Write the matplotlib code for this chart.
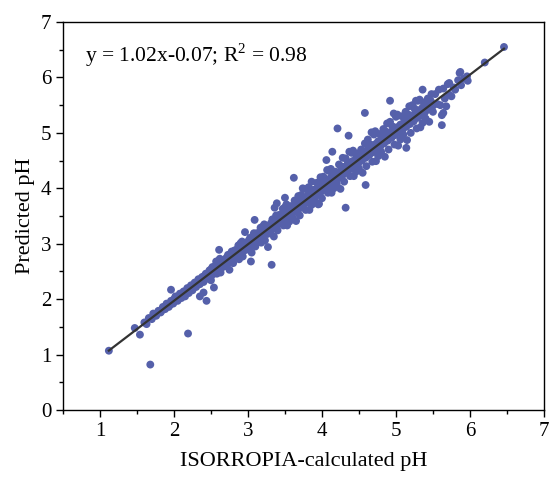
import matplotlib.pyplot as plt
from matplotlib.ticker import MultipleLocator

plt.rcParams['font.family'] = ['Liberation Serif', 'DejaVu Serif']
plt.rcParams['mathtext.fontset'] = 'custom'
plt.rcParams['mathtext.rm'] = 'Liberation Serif'

# ISORROPIA-calculated pH (x) vs predicted pH (y)
calc_ph = [
    1.12, 1.68, 2.19, 1.54, 1.96, 2.44, 2.54, 2.61, 3.62, 4.21, 3.04, 3.32, 3.27,
    4.32, 4.59, 3.96, 4.06, 4.14, 4.36, 4.58, 4.92, 5.14, 5.64, 5.86, 6.46, 6.20,
    5.87, 5.97, 5.36, 5.72, 5.62, 5.62, 5.70,
    3.36, 3.50, 3.74, 3.86, 3.09, 2.96, 3.39,
    1.47, 1.60, 1.63, 1.66, 1.70, 1.72, 1.76, 1.79, 1.82, 1.85, 1.88, 1.90, 1.93,
    1.96, 1.99, 2.02, 2.05, 2.08, 2.10, 2.13, 2.15, 2.18, 2.20, 2.23, 2.25, 2.28,
    2.30, 2.33, 2.35, 2.38, 2.40, 2.43, 2.45, 2.48, 2.50,
    2.00, 2.12, 2.26, 2.36, 2.46, 1.84, 1.95, 2.35, 2.40,
    2.01, 2.06, 2.11, 2.16, 2.21, 2.27, 2.31, 2.37, 2.41, 2.47,
    2.50, 2.53, 2.55, 2.57, 2.52, 2.58,
    2.60, 2.63, 2.65, 2.67, 2.62, 2.68,
    2.70, 2.73, 2.75, 2.77, 2.72, 2.78,
    2.80, 2.83, 2.85, 2.87, 2.82, 2.88,
    2.90, 2.93, 2.95, 2.97, 2.92, 2.98,
    3.00, 3.03, 3.05, 3.07, 3.02, 3.08,
    3.10, 3.13, 3.15, 3.17, 3.12, 3.18,
    3.20, 3.23, 3.25, 3.27, 3.22, 3.28,
    3.30, 3.33, 3.35, 3.37, 3.32, 3.38,
    3.40, 3.43, 3.45, 3.47, 3.42, 3.48,
    3.50, 3.53, 3.55, 3.57, 3.52, 3.58, 3.56,
    3.60, 3.63, 3.65, 3.67, 3.62, 3.68, 3.66,
    3.70, 3.73, 3.75, 3.77, 3.72, 3.78, 3.76,
    3.80, 3.83, 3.85, 3.87, 3.82, 3.88, 3.86,
    3.90, 3.93, 3.95, 3.97, 3.92, 3.98, 3.96,
    4.00, 4.03, 4.05, 4.07, 4.02, 4.08, 4.06,
    4.10, 4.13, 4.15, 4.17, 4.12, 4.18, 4.16,
    4.20, 4.23, 4.25, 4.27, 4.22, 4.28, 4.26,
    4.30, 4.33, 4.35, 4.37, 4.32, 4.38, 4.36,
    4.40, 4.43, 4.45, 4.47, 4.42, 4.48, 4.46,
    4.50, 4.53, 4.55, 4.57, 4.52, 4.58, 4.56,
    4.60, 4.63, 4.65, 4.67, 4.62, 4.68, 4.66,
    4.70, 4.73, 4.75, 4.77, 4.72, 4.78, 4.76,
    4.80, 4.83, 4.85, 4.87, 4.82, 4.88, 4.86,
    4.90, 4.93, 4.95, 4.97, 4.92, 4.98, 4.96,
    5.00, 5.03, 5.05, 5.07, 5.02, 5.08, 5.06,
    5.10, 5.13, 5.15, 5.17, 5.12, 5.18, 5.16,
    5.20, 5.23, 5.25, 5.27, 5.22, 5.28, 5.26,
    5.30, 5.33, 5.35, 5.37, 5.32, 5.38, 5.36,
    5.40, 5.43, 5.45, 5.47, 5.42, 5.48, 5.46,
    5.50, 5.53, 5.56, 5.58,
    5.60, 5.64, 5.66, 5.68,
    5.72, 5.75, 5.78,
    5.80, 5.84, 5.88,
    5.92, 5.96,
    2.51, 2.54, 2.56, 2.59, 2.61, 2.64, 2.66, 2.69, 2.71, 2.74,
    2.76, 2.79, 2.81, 2.84, 2.86, 2.89, 2.91, 2.94, 2.96, 2.99,
    3.01, 3.04, 3.06, 3.09, 3.11, 3.14, 3.16, 3.19, 3.21, 3.24,
    3.26, 3.29, 3.31, 3.34, 3.36, 3.39, 3.41, 3.44, 3.46, 3.49,
    3.51, 3.54, 3.56, 3.59, 3.61, 3.64, 3.66, 3.69, 3.71, 3.74,
    3.76, 3.79, 3.81, 3.84, 3.86, 3.89, 3.91, 3.94, 3.96, 3.99,
    4.01, 4.04, 4.06, 4.09, 4.11, 4.14, 4.16, 4.19, 4.21, 4.24,
    4.26, 4.29, 4.31, 4.34, 4.36, 4.39, 4.41, 4.44, 4.46, 4.49,
    4.51, 4.54, 4.56, 4.59, 4.61, 4.64, 4.66, 4.69, 4.71, 4.74,
    4.76, 4.79, 4.81, 4.84, 4.86, 4.89, 4.91, 4.94, 4.96, 4.99,
    5.01, 5.04, 5.06, 5.09, 5.11, 5.14, 5.16, 5.19, 5.21, 5.24,
    5.26, 5.29, 5.31, 5.34, 5.36, 5.39, 5.41, 5.44, 5.46, 5.49,
]
pred_ph = [
    1.07, 0.82, 1.38, 1.36, 2.17, 1.97, 2.21, 2.89, 4.19, 5.08, 2.68, 2.62, 2.94,
    3.65, 4.06, 3.72, 4.51, 4.66, 4.95, 5.36, 5.58, 4.73, 5.36, 6.08, 6.55, 6.27,
    6.10, 5.94, 5.78, 5.69, 5.32, 5.14, 5.88,
    3.65, 3.83, 4.00, 4.12, 3.43, 3.21, 3.73,
    1.48, 1.58, 1.55, 1.66, 1.64, 1.74, 1.70, 1.79, 1.76, 1.86, 1.82, 1.92, 1.86,
    1.97, 1.92, 2.05, 1.97, 2.10, 2.02, 2.14, 2.05, 2.20, 2.11, 2.25, 2.16, 2.30,
    2.22, 2.36, 2.27, 2.40, 2.31, 2.46, 2.37, 2.52, 2.41,
    2.00, 2.08, 2.24, 2.33, 2.45, 1.80, 1.90, 2.05, 2.12,
    2.00, 2.03, 2.10, 2.13, 2.20, 2.24, 2.30, 2.35, 2.42, 2.44,
    2.34, 2.46, 2.56, 2.68, 2.58, 2.46,
    2.69, 2.48, 2.63, 2.59, 2.73, 2.70,
    2.60, 2.80, 2.53, 2.78, 2.67, 2.86,
    2.65, 2.76, 2.85, 2.97, 2.88, 2.72,
    3.01, 2.77, 2.94, 2.89, 3.04, 3.00,
    2.90, 3.11, 2.84, 3.08, 2.99, 3.19,
    2.95, 3.07, 3.15, 3.29, 3.19, 3.02,
    3.31, 3.06, 3.25, 3.18, 3.35, 3.32,
    3.20, 3.44, 3.13, 3.40, 3.28, 3.51,
    3.24, 3.37, 3.47, 3.63, 3.52, 3.33,
    3.66, 3.33, 3.56, 3.47, 3.71, 3.68, 3.40,
    3.48, 3.78, 3.41, 3.74, 3.60, 3.86, 3.62,
    3.51, 3.69, 3.82, 3.99, 3.88, 3.61, 3.74,
    3.99, 3.61, 3.87, 3.78, 4.02, 3.97, 3.70,
    3.79, 4.10, 3.71, 4.06, 3.90, 4.20, 3.94,
    3.82, 4.01, 4.15, 4.33, 4.21, 3.92, 4.06,
    4.31, 3.92, 4.20, 4.10, 4.35, 4.30, 4.00,
    4.08, 4.43, 3.99, 4.39, 4.21, 4.55, 4.28,
    4.12, 4.30, 4.47, 4.66, 4.54, 4.22, 4.38,
    4.64, 4.22, 4.50, 4.41, 4.68, 4.63, 4.30,
    4.36, 4.70, 4.28, 4.65, 4.52, 4.81, 4.55,
    4.40, 4.63, 4.79, 5.01, 4.88, 4.48, 4.66,
    4.97, 4.49, 4.82, 4.72, 5.03, 4.98, 4.58,
    4.66, 5.07, 4.57, 5.02, 4.84, 5.17, 4.90,
    4.70, 4.93, 5.12, 5.35, 5.20, 4.79, 5.00,
    5.29, 4.77, 5.12, 5.02, 5.33, 5.30, 4.88,
    4.97, 5.38, 4.87, 5.33, 5.14, 5.48, 5.20,
    5.00, 5.25, 5.44, 5.58, 5.50, 5.08, 5.30,
    5.58, 5.10, 5.42, 5.32, 5.60, 5.55, 5.18,
    5.26, 5.62, 5.20, 5.58, 5.44, 5.70, 5.47,
    5.38, 5.70, 5.52, 5.78,
    5.50, 5.80, 5.62, 5.48,
    5.90, 5.66, 5.82,
    5.78, 5.95, 5.86,
    5.98, 6.02,
    2.55, 2.46, 2.60, 2.51, 2.65, 2.56, 2.70, 2.61, 2.75, 2.66,
    2.81, 2.72, 2.86, 2.77, 2.91, 2.82, 2.96, 2.87, 3.01, 2.92,
    3.06, 2.97, 3.11, 3.02, 3.16, 3.07, 3.21, 3.12, 3.26, 3.17,
    3.32, 3.23, 3.37, 3.28, 3.42, 3.33, 3.47, 3.38, 3.52, 3.43,
    3.57, 3.48, 3.62, 3.53, 3.67, 3.58, 3.72, 3.63, 3.77, 3.68,
    3.83, 3.74, 3.88, 3.79, 3.93, 3.84, 3.98, 3.89, 4.03, 3.94,
    4.08, 3.99, 4.13, 4.04, 4.18, 4.09, 4.23, 4.14, 4.28, 4.19,
    4.34, 4.25, 4.39, 4.30, 4.44, 4.35, 4.49, 4.40, 4.54, 4.45,
    4.59, 4.50, 4.64, 4.55, 4.69, 4.60, 4.74, 4.65, 4.79, 4.70,
    4.85, 4.76, 4.90, 4.81, 4.95, 4.86, 5.00, 4.91, 5.05, 4.96,
    5.10, 5.01, 5.15, 5.06, 5.20, 5.11, 5.25, 5.16, 5.30, 5.21,
    5.36, 5.27, 5.41, 5.32, 5.46, 5.37, 5.51, 5.42, 5.56, 5.47,
]

# fitted line shown in the annotation
slope = 1.02
intercept = -0.07
fit_label = 'y = 1.02x-0.07; R$^2$ = 0.98'

fig, ax = plt.subplots(figsize=(5.5, 4.79), dpi=100)
fig.subplots_adjust(left=0.1145, right=0.989, bottom=0.144, top=0.954)

ax.scatter(calc_ph, pred_ph, s=32, color='#5560AA', edgecolors='none', zorder=2)

x0, x1 = min(calc_ph), max(calc_ph)
ax.plot([x0, x1], [slope * x0 + intercept, slope * x1 + intercept],
        color='#333333', lw=1.6, zorder=3)

ax.text(0.8, 6.41, fit_label, fontsize=15.5, va='center', ha='left')

ax.set_xlim(0.5, 7)
ax.set_ylim(0, 7)
ax.xaxis.set_major_locator(MultipleLocator(1))
ax.xaxis.set_minor_locator(MultipleLocator(0.5))
ax.yaxis.set_major_locator(MultipleLocator(1))
ax.yaxis.set_minor_locator(MultipleLocator(0.5))
ax.tick_params(which='major', direction='out', length=5, width=1, labelsize=15)
ax.tick_params(which='minor', direction='out', length=3, width=1)
for sp in ax.spines.values():
    sp.set_linewidth(1)

ax.set_xlabel('ISORROPIA-calculated pH', fontsize=16, labelpad=8)
ax.set_ylabel('Predicted pH', fontsize=16, labelpad=4)

fig.savefig('out.png', dpi=100)
